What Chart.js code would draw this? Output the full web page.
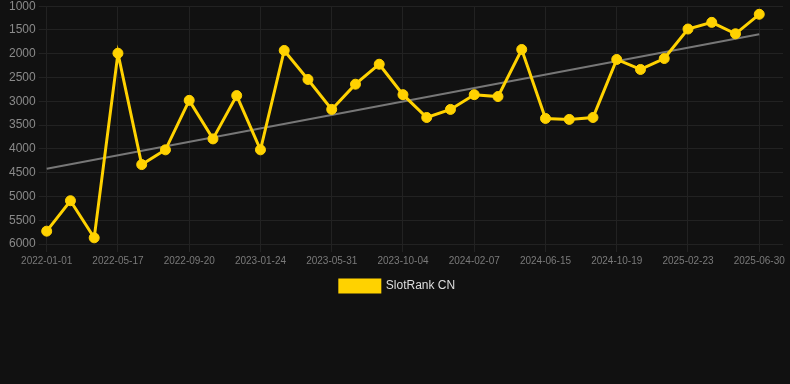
<!DOCTYPE html>
<html>
<head>
<meta charset="utf-8">
<script src="https://cdn.jsdelivr.net/npm/chart.js@4/dist/chart.umd.min.js"></script>
<style>
  html, body { margin: 0; padding: 0; background: #111111; overflow: hidden; }
  #wrap { width: 790px; height: 388px; margin-top: -4px; }
</style>
</head>
<body>
<div id="wrap"><canvas id="myChart"></canvas></div>
<script>
// ===== DATA =====
const dates = [
  '2022-01-01','2022-02-15','2022-04-01','2022-05-17','2022-06-28','2022-08-09',
  '2022-09-20','2022-11-01','2022-12-13','2023-01-24','2023-03-07','2023-04-19',
  '2023-05-31','2023-07-12','2023-08-23','2023-10-04','2023-11-15','2023-12-27',
  '2024-02-07','2024-03-20','2024-05-03','2024-06-15','2024-07-27','2024-09-07',
  '2024-10-19','2024-11-30','2025-01-12','2025-02-23','2025-04-06','2025-05-18',
  '2025-06-30','2025-08-11'
];
const rank = [
  5730, 5090, 5870, 1990, 4330, 4020, 2980, 3790, 2880, 4020, 1930, 2540,
  3170, 2640, 2220, 2860, 3340, 3170, 2860, 2900, 1910, 3360, 3380, 3340,
  2120, 2330, 2100, 1480, 1340, 1580, 1170
];
const trendStart = 4420;
const trendEnd = 1590;
const yTicks = [1000, 1500, 2000, 2500, 3000, 3500, 4000, 4500, 5000, 5500, 6000];

const lastIdx = rank.length - 1;
const trend = dates.map((d, i) => i === 0 ? trendStart : (i === lastIdx ? trendEnd : null));
const shown = i => i % 3 === 0 && i <= lastIdx;

// ===== LINE CHART =====
const ctx = document.getElementById('myChart').getContext('2d');
new Chart(ctx, {
  type: 'line',
  data: {
    labels: dates,
    datasets: [{
      label: 'SlotRank CN',
      data: rank,
      borderColor: '#ffd200',
      backgroundColor: '#ffd200',
      borderWidth: 3,
      pointRadius: 5,
      pointBorderWidth: 1,
      pointHoverRadius: 6,
      tension: 0
    }, {
      label: 'trend',
      data: trend,
      borderColor: '#777777',
      borderWidth: 2,
      pointRadius: 0,
      spanGaps: true
    }]
  },
  options: {
    responsive: true,
    maintainAspectRatio: false,
    animation: false,
    layout: { padding: { left: 6, right: 1, top: 0, bottom: 82 } },
    plugins: {
      legend: {
        position: 'bottom',
        labels: {
          color: '#dddddd',
          font: { size: 12 },
          boxWidth: 40,
          boxHeight: 12,
          filter: item => item.datasetIndex === 0
        }
      },
      tooltip: { enabled: false }
    },
    scales: {
      y: {
        reverse: true,
        min: 1000,
        max: 6000,
        afterBuildTicks: axis => { axis.ticks = yTicks.map(v => ({ value: v })); },
        ticks: { color: '#8a8a8a', font: { size: 12 }, callback: v => String(v) },
        grid: { color: '#222222' },
        border: { display: false }
      },
      x: {
        ticks: {
          color: '#7a7a7a',
          font: { size: 10 },
          autoSkip: false,
          maxRotation: 0,
          callback: function (v, i) { return shown(i) ? dates[i] : ''; }
        },
        grid: { color: c => shown(c.index) ? '#222222' : 'rgba(0,0,0,0)' },
        border: { display: false }
      }
    }
  }
});
</script>
</body>
</html>
